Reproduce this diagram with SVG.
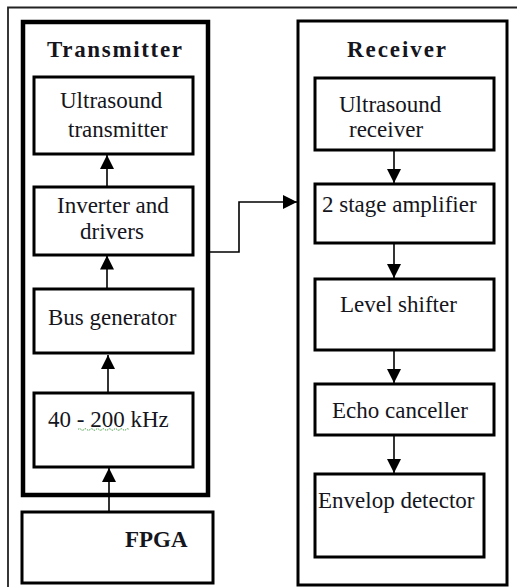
<svg xmlns="http://www.w3.org/2000/svg" width="517" height="587" viewBox="0 0 517 587">
<style>
text{font-family:"Liberation Serif","Times New Roman",serif;font-size:23px;fill:#151520}
.t{font-weight:bold}
.box{fill:#fff;stroke:#000;stroke-width:3}
.frame{fill:#fff;stroke:#000}
.c{fill:none;stroke:#000;stroke-width:1.6}
</style>
<defs>
<marker id="ah" markerUnits="userSpaceOnUse" markerWidth="14" markerHeight="14" viewBox="0 0 14 14" refX="14" refY="7" orient="auto">
<path d="M0,0 L14,7 L0,14 Z" fill="#000"/>
</marker>
</defs>
<rect width="517" height="587" fill="#fff"/>
<!-- outer frame -->
<path d="M8,587 L8,7.5 L517,7.5" fill="none" stroke="#222" stroke-width="1.8"/>

<g id="transmitter">
<rect class="frame" x="23" y="22" width="185" height="473" stroke-width="4.5"/>
<text class="t" x="47" y="57" textLength="135" lengthAdjust="spacing">Transmitter</text>
</g>
<g id="receiver">
<rect class="frame" x="298" y="21" width="209" height="564" stroke-width="3"/>
<text class="t" x="347" y="57" textLength="99" lengthAdjust="spacing">Receiver</text>
</g>

<g id="ultrasound-transmitter">
<rect class="box" x="34" y="77" width="159" height="77" stroke-width="3.5"/>
<text x="60" y="108">Ultrasound</text>
<text x="68" y="137">transmitter</text>
</g>
<g id="inverter-drivers">
<rect class="box" x="34" y="187" width="159" height="68" stroke-width="3.5"/>
<text x="57" y="213">Inverter and</text>
<text x="80" y="239">drivers</text>
</g>
<g id="bus-generator">
<rect class="box" x="34" y="289" width="159" height="64" stroke-width="3.5"/>
<text x="48" y="325">Bus generator</text>
</g>
<g id="freq">
<rect class="box" x="34" y="393" width="159" height="74" stroke-width="3.5"/>
<text x="48" y="427">40 - 200 kHz</text>
<path d="M78,429.5 q1.5,-1.5 3,0 t3,0 t3,0 t3,0 t3,0 t3,0 t3,0 t3,0 t3,0 t3,0 t3,0 t3,0 t3,0 t3,0 t3,0 t3,0 t3,0" fill="none" stroke="#3a9a3a" stroke-width="1" stroke-dasharray="1.5 1"/>
</g>
<g id="fpga">
<rect class="box" x="22" y="512" width="191" height="71" stroke-width="2.8"/>
<text class="t" x="125" y="547">FPGA</text>
</g>

<g id="ultrasound-receiver">
<rect class="box" x="315" y="78" width="179" height="72"/>
<text x="339" y="112">Ultrasound</text>
<text x="349" y="137">receiver</text>
</g>
<g id="amplifier">
<rect class="box" x="315" y="184" width="179" height="59"/>
<text x="322" y="212">2 stage amplifier</text>
</g>
<g id="level-shifter">
<rect class="box" x="315" y="279" width="179" height="71"/>
<text x="340" y="312">Level shifter</text>
</g>
<g id="echo-canceller">
<rect class="box" x="315" y="384" width="179" height="51"/>
<text x="332" y="418">Echo canceller</text>
</g>
<g id="envelop-detector">
<rect class="box" x="315" y="474" width="169" height="83"/>
<text x="318" y="508">Envelop detector</text>
</g>

<g id="connectors">
<path class="c" d="M107,187 L107,155" marker-end="url(#ah)"/>
<path class="c" d="M107,289 L107,255.5" marker-end="url(#ah)"/>
<path class="c" d="M108,393 L108,355" marker-end="url(#ah)"/>
<path class="c" d="M109,512 L109,468" marker-end="url(#ah)"/>
<path class="c" d="M210,252 L239,252 L239,202 L297,202" marker-end="url(#ah)"/>
<path class="c" d="M394,150 L394,183" marker-end="url(#ah)"/>
<path class="c" d="M394,243 L394,278" marker-end="url(#ah)"/>
<path class="c" d="M394,350 L394,383" marker-end="url(#ah)"/>
<path class="c" d="M394,435 L394,473" marker-end="url(#ah)"/>
</g>
</svg>
